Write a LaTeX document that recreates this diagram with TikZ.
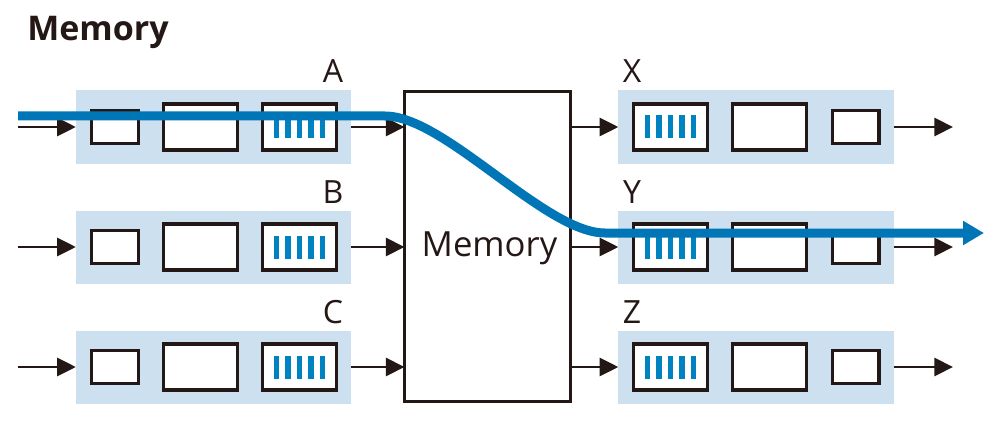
\documentclass[tikz,border=0pt]{standalone}
\usepackage{fontspec}
\setmainfont{Open Sans}
\usetikzlibrary{arrows.meta}
\definecolor{ink}{HTML}{231815}
\definecolor{pale}{HTML}{CCE0EF}
\definecolor{flow}{HTML}{0076B6}
\definecolor{barc}{HTML}{0082C0}

\begin{document}
\begin{tikzpicture}[x=0.75pt,y=-0.75pt,
  queue/.style={fill=pale,inner sep=0pt,outer sep=0pt,
    minimum width=206.5pt,minimum height=54.75pt},
  smallbox/.style={draw=ink,fill=white,line width=2.6pt,inner sep=0pt,outer sep=0pt,
    minimum width=34.9pt,minimum height=24.4pt},
  bigbox/.style={draw=ink,fill=white,line width=2.4pt,inner sep=0pt,outer sep=0pt,
    minimum width=55.4pt,minimum height=34.4pt},
  membox/.style={draw=ink,fill=white,line width=2.25pt,inner sep=0pt,outer sep=0pt,
    minimum width=124.5pt,minimum height=232.5pt},
  lab/.style={anchor=base,inner sep=0pt,text=ink,font=\fontsize{24}{24}\selectfont},
  arr/.style={draw=ink,line width=2.1pt,-{Triangle[length=14pt,width=13.5pt]}},
  flowline/.style={draw=flow,line width=6.75pt,-{Triangle[length=15.75pt,width=17.25pt]}}
]
\useasboundingbox (0,0) rectangle (994,424);

% title
\node[anchor=base west,inner sep=0pt,text=ink,font=\fontsize{25.5}{25.5}\selectfont\bfseries]
  (title) at (27,41) {Memory};

% shared memory block
\node[membox] (mem) at (487.5,246.5) {};
\node[anchor=base,inner sep=0pt,text=ink,font=\fontsize{26}{26}\selectfont]
  (memtext) at (489.5,256) {Memory};

% input queues
\foreach \r/\y in {A/127,B/247,C/367}{
  \node[queue] (q\r) at (213.5,\y) {};
  \node[smallbox] (s\r) at (115,\y) {};
  \node[bigbox] (m\r) at (200.5,\y) {};
  \node[bigbox] (b\r) at (299.5,\y) {};
  \foreach \d in {-23,-11.5,0,11.5,23}
    \fill[barc] ([shift={(\d-2.75,-11.5)}]b\r.center) rectangle ++(5.5,23);
  \node[lab] (l\r) at (333,\y-44) {\r};
  \coordinate (in\r) at (18,\y);
  \draw[arr] (in\r) -- (q\r.west);
  \draw[arr] (q\r.east) -- (q\r.east -| mem.west);
}

% output queues
\foreach \r/\y in {X/127,Y/247,Z/367}{
  \node[queue] (q\r) at (756,\y) {};
  \node[bigbox] (b\r) at (670.5,\y) {};
  \node[bigbox] (m\r) at (769.5,\y) {};
  \node[smallbox] (s\r) at (855.5,\y) {};
  \foreach \d in {-23,-11.5,0,11.5,23}
    \fill[barc] ([shift={(\d-2.75,-11.5)}]b\r.center) rectangle ++(5.5,23);
  \node[lab] (l\r) at (632,\y-44) {\r};
  \coordinate (out\r) at (953,\y);
  \draw[arr] (q\r.west -| mem.east) -- (q\r.west);
  \draw[arr] (q\r.east) -- (out\r);
}

% packet path from A through memory to Y
\coordinate (fstart) at (18,116);
\coordinate (bendin) at (385,116);
\coordinate (bendout) at (605,233);
\coordinate (fend) at (984,233);
\draw[flowline] (fstart) -- (bendin)
  .. controls (445,116) and (545,233) .. (bendout) -- (fend);
\end{tikzpicture}
\end{document}
